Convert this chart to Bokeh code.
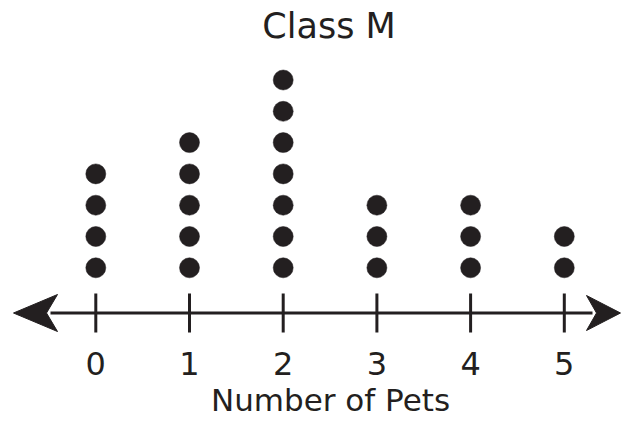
from bokeh.plotting import figure
from bokeh.models import Range1d
from bokeh.core.properties import value
from bokeh.embed import file_html
from bokeh.resources import INLINE

# ---- data ----
pets = [0, 1, 2, 3, 4, 5]
counts = [4, 5, 7, 3, 3, 2]
tick_labels = ["0", "1", "2", "3", "4", "5"]
title_text = "Class M"
x_label = "Number of Pets"

INK = "#231f20"
FONT = "DejaVu Sans"

# pixel helpers (canvas px -> data units); x unit = one pet, y unit = one dot
X0, XS = 95.3, 93.7
Y0, YS = 298.6, 31.3


def px(v):
    return (v - X0) / XS


def py(v):
    return (Y0 - v) / YS


W, H = 622, 420
p = figure(width=W, height=H, output_backend="svg", toolbar_location=None,
           x_range=Range1d(px(0), px(W)), y_range=Range1d(py(H), py(0)),
           x_axis_type=None, y_axis_type=None, min_border=0,
           outline_line_color=None, background_fill_color="white")
p.grid.visible = False

# dots
dx, dy = [], []
for x, c in zip(pets, counts):
    for k in range(1, c + 1):
        dx.append(x)
        dy.append(k)
p.scatter(dx, dy, size=20, fill_color=INK, line_color=INK, line_width=0.5)

# number line
axis_y = py(312.5)
p.segment(x0=[px(50)], y0=[axis_y], x1=[px(592)], y1=[axis_y],
          line_color=INK, line_width=3)
# ticks
p.segment(x0=pets, y0=[py(293)] * len(pets), x1=pets, y1=[py(332)] * len(pets),
          line_color=INK, line_width=3)
# arrowheads
left = ([px(13), px(57), px(46), px(57)], [axis_y, py(294), axis_y, py(331)])
right = ([px(620), px(586), px(596), px(586)], [axis_y, py(295), axis_y, py(330)])
p.patches(xs=[left[0], right[0]], ys=[left[1], right[1]],
          fill_color=INK, line_color=INK, line_width=1)

# tick labels
p.text(x=pets, y=[py(363)] * len(pets), text=tick_labels,
       text_font=value(FONT), text_font_size="32px", text_color=INK,
       text_align="center", text_baseline="middle")

# title and x label
p.text(x=[px(328.5)], y=[py(25)], text=[title_text],
       text_font=value(FONT), text_font_size="35px", text_color=INK,
       text_align="center", text_baseline="middle")
p.text(x=[px(330)], y=[py(399)], text=[x_label],
       text_font=value(FONT), text_font_size="31px", text_color=INK,
       text_align="center", text_baseline="middle")

open("out.html", "w").write(file_html(p, INLINE))
